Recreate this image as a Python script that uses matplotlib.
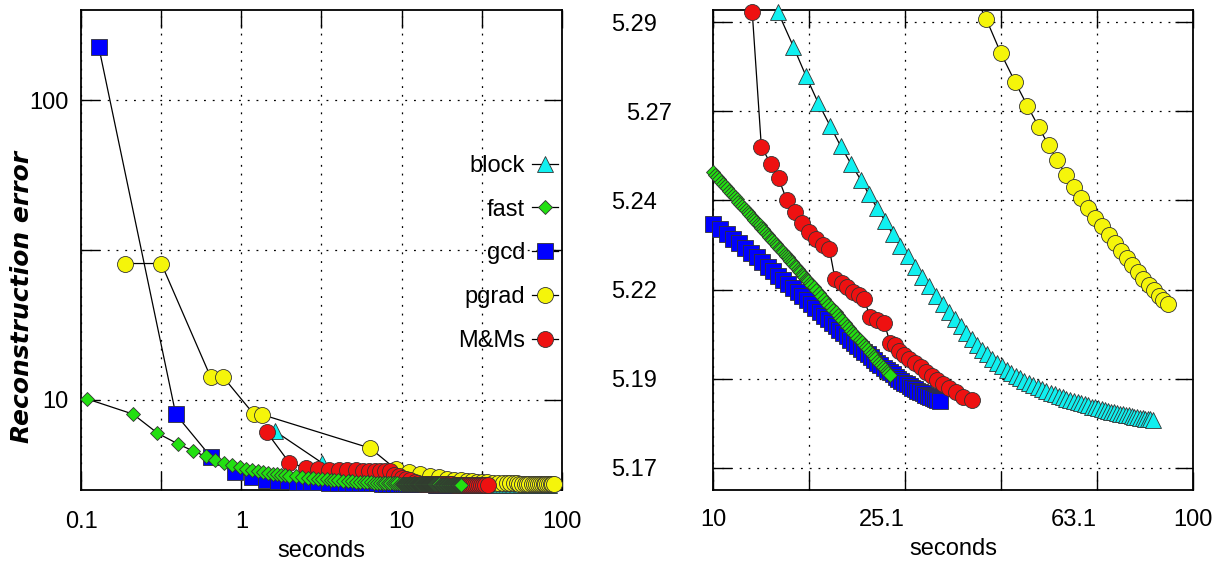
import numpy as np
import matplotlib.pyplot as plt
from matplotlib.lines import Line2D
from matplotlib.ticker import FixedLocator, FixedFormatter, NullLocator
from matplotlib.transforms import ScaledTranslation

plt.rcParams['font.family'] = ['Liberation Sans', 'DejaVu Sans']

# ---- data (seconds, reconstruction error) ----
block_t = [1.62, 3.17, 4.1, 5.0, 5.95, 6.9, 7.85, 8.8, 9.8, 10.8, 11.75, 12.7,
           13.67, 14.71, 15.63, 16.56, 17.54, 18.44, 19.38, 20.33, 21.12, 21.99,
           22.85, 23.70, 24.58, 25.44, 26.34, 27.26, 28.21, 29.21, 30.1, 31.0,
           31.9, 32.8, 33.7, 34.6, 35.5, 36.4, 37.3, 38.2, 39.1, 40.0, 40.9,
           41.8, 42.7, 43.6, 44.5, 45.5, 46.5, 47.5, 48.5, 49.5, 50.5, 51.5,
           52.5, 53.5, 54.5, 55.5, 56.5, 57.5, 58.5, 59.5, 60.5, 61.5, 62.5,
           63.5, 64.5, 65.5, 66.5, 67.5, 68.5, 69.5, 70.5, 71.5, 72.5, 73.5,
           74.5, 75.5, 76.5, 77.5, 78.5, 79.5, 80.5, 81.5, 82.5]
block_err = [7.86, 6.17, 5.80, 5.62, 5.52, 5.46, 5.42, 5.385, 5.36, 5.34, 5.322, 5.308,
             5.2977, 5.2881, 5.2798, 5.2724, 5.2659, 5.2603, 5.2553, 5.2507, 5.2467, 5.2428,
             5.2391, 5.2355, 5.2322, 5.2293, 5.2264, 5.2236, 5.2209, 5.2183, 5.2160, 5.2138,
             5.2117, 5.2097, 5.2079, 5.2061, 5.2045, 5.2031, 5.2018, 5.2006, 5.1995, 5.1985, 5.1975,
             5.1967, 5.1959, 5.1951, 5.1945, 5.1938, 5.1932, 5.1926, 5.1921, 5.1916, 5.1911, 5.1906,
             5.1902, 5.1898, 5.1894, 5.1890, 5.1887, 5.1884, 5.1881, 5.1878, 5.1875, 5.1872, 5.1870,
             5.1867, 5.1865, 5.1862, 5.1860, 5.1858, 5.1856, 5.1854, 5.1852, 5.1851, 5.1849, 5.1847,
             5.1846, 5.1844, 5.1843, 5.1841, 5.1840, 5.1838, 5.1837, 5.1836, 5.1835]

fast_t = [0.109, 0.211, 0.300, 0.403, 0.497, 0.601, 0.690, 0.780, 0.873, 0.975,
          1.07, 1.17, 1.27, 1.37, 1.47, 1.57, 1.67, 1.77, 1.87, 1.97,
          2.2, 2.4, 2.6, 2.8, 3.0, 3.2, 3.4, 3.6, 3.8, 4.0,
          4.3, 4.6, 4.9, 5.2, 5.5, 5.8, 6.1, 6.4, 6.7, 7.0,
          7.3, 7.6, 7.9, 8.2, 8.5, 8.8, 9.1, 9.4, 9.7, 10.0,
          10.1, 10.2, 10.3, 10.4, 10.5, 10.6, 10.7, 10.8, 10.9, 11.0,
          11.1, 11.2, 11.3, 11.4, 11.5, 11.6, 11.7, 11.8, 11.9, 12.0,
          12.1, 12.2, 12.3, 12.4, 12.5, 12.6, 12.7, 12.8, 12.9, 13.0,
          13.1, 13.2, 13.3, 13.4, 13.5, 13.6, 13.7, 13.8, 13.9, 14.0,
          14.1, 14.2, 14.3, 14.4, 14.5, 14.6, 14.7, 14.8, 14.9, 15.0,
          15.1, 15.2, 15.3, 15.4, 15.5, 15.6, 15.7, 15.8, 15.9, 16.0,
          16.2, 16.4, 16.6, 16.8, 17.0, 17.2, 17.4, 17.6, 17.8, 18.0,
          18.2, 18.4, 18.6, 18.8, 19.0, 19.2, 19.4, 19.6, 19.8, 20.0,
          20.2, 20.4, 20.6, 20.8, 21.0, 21.2, 21.4, 21.6, 21.8, 22.0,
          22.2, 22.4, 22.6, 22.8, 23.0, 23.2, 23.4]
fast_err = [10.07, 8.96, 7.74, 7.12, 6.76, 6.47, 6.29, 6.17, 6.05, 5.95,
            5.88, 5.82, 5.77, 5.73, 5.70, 5.67, 5.645, 5.62, 5.60, 5.58,
            5.55, 5.525, 5.50, 5.48, 5.46, 5.445, 5.43, 5.415, 5.40, 5.388,
            5.372, 5.358, 5.345, 5.334, 5.324, 5.315, 5.307, 5.300, 5.294, 5.288,
            5.283, 5.278, 5.274, 5.270, 5.266, 5.263, 5.260, 5.2575, 5.255, 5.2529,
            5.2522, 5.2516, 5.2509, 5.2503, 5.2496, 5.2490, 5.2484, 5.2477, 5.2471, 5.2465,
            5.2459, 5.2453, 5.2447, 5.2441, 5.2435, 5.2430, 5.2424, 5.2418, 5.2412, 5.2407,
            5.2401, 5.2396, 5.2390, 5.2385, 5.2380, 5.2374, 5.2369, 5.2364, 5.2358, 5.2353,
            5.2348, 5.2343, 5.2338, 5.2333, 5.2328, 5.2323, 5.2318, 5.2313, 5.2308, 5.2304,
            5.2299, 5.2294, 5.2290, 5.2285, 5.2280, 5.2276, 5.2271, 5.2267, 5.2262, 5.2258,
            5.2253, 5.2249, 5.2244, 5.2240, 5.2236, 5.2231, 5.2227, 5.2223, 5.2218, 5.2214,
            5.2206, 5.2198, 5.2190, 5.2182, 5.2174, 5.2166, 5.2158, 5.2151, 5.2143, 5.2136,
            5.2128, 5.2121, 5.2114, 5.2106, 5.2099, 5.2092, 5.2085, 5.2079, 5.2072, 5.2065,
            5.2058, 5.2052, 5.2045, 5.2039, 5.2032, 5.2026, 5.2020, 5.2014, 5.2007, 5.2001,
            5.1995, 5.1989, 5.1983, 5.1977, 5.1972, 5.1966, 5.1960]

gcd_t = [0.129, 0.390, 0.650, 0.912, 1.17, 1.43, 1.69, 1.95, 2.21, 2.47, 2.73,
         3.0, 3.5, 4.0, 4.5, 5.0, 5.5, 6.0, 6.5, 7.0, 7.5, 8.0, 8.5, 9.0, 9.5,
         10.0, 10.33, 10.67, 11.0, 11.33, 11.67, 12.0, 12.33, 12.67, 13.0,
         13.33, 13.67, 14.0, 14.33, 14.67, 15.0, 15.33, 15.67, 16.0, 16.33,
         16.67, 17.0, 17.33, 17.67, 18.0, 18.33, 18.67, 19.0, 19.33, 19.67,
         20.0, 20.33, 20.67, 21.0, 21.33, 21.67, 22.0, 22.33, 22.67, 23.0,
         23.33, 23.67, 24.0, 24.33, 24.67, 25.0, 25.33, 25.67, 26.0, 26.33,
         26.67, 27.0, 27.33, 27.67, 28.0, 28.33, 28.67, 29.0, 29.33, 29.7]
gcd_err = [150.8, 8.95, 6.42, 5.73, 5.51, 5.42, 5.37, 5.345, 5.33, 5.318, 5.31,
           5.303, 5.295, 5.288, 5.282, 5.277, 5.272, 5.268, 5.264, 5.260, 5.256, 5.252, 5.248, 5.245, 5.2418,
           5.2385, 5.2371, 5.2357, 5.2343, 5.2330, 5.2316, 5.2303, 5.2290, 5.2277, 5.2264,
           5.2252, 5.2239, 5.2227, 5.2215, 5.2204, 5.2192, 5.2181, 5.2170, 5.2159, 5.2148,
           5.2138, 5.2127, 5.2117, 5.2107, 5.2097, 5.2088, 5.2078, 5.2069, 5.2060, 5.2051,
           5.2043, 5.2034, 5.2026, 5.2018, 5.2010, 5.2003, 5.1995, 5.1988, 5.1981, 5.1974,
           5.1968, 5.1962, 5.1956, 5.1950, 5.1945, 5.1939, 5.1934, 5.1930, 5.1925, 5.1921,
           5.1917, 5.1913, 5.1909, 5.1905, 5.1902, 5.1898, 5.1895, 5.1892, 5.1890, 5.1888]

pgrad_t = [0.189, 0.317, 0.644, 0.772, 1.194, 1.342, 6.35, 9.23, 11.1, 13.0,
           15.0, 17.0, 19.1, 21.2, 23.3, 25.4, 27.5, 29.7, 31.9, 34.3,
           37.05, 39.78, 42.6, 45.2, 47.7, 50.0, 52.2, 54.3, 56.4, 58.4,
           60.5, 62.6, 64.7, 66.8, 68.8, 70.8, 72.8, 74.8, 76.8, 78.8,
           80.8, 82.8, 84.8, 86.8, 88.6]
pgrad_err = [28.5, 28.5, 11.9, 11.9, 8.96, 8.93, 6.90, 5.86, 5.73, 5.64,
             5.57, 5.51, 5.46, 5.42, 5.39, 5.36, 5.34, 5.326, 5.315, 5.305,
             5.296, 5.2863, 5.2782, 5.2715, 5.2656, 5.2605, 5.2562, 5.2522, 5.2488, 5.2458,
             5.2429, 5.2402, 5.2377, 5.2353, 5.2331, 5.2309, 5.2288, 5.2268, 5.2249, 5.2231,
             5.2214, 5.2198, 5.2183, 5.2170, 5.2160]

mms_t = [1.44, 1.99, 2.52, 3.01, 3.54, 4.09, 4.59, 5.17, 5.72, 6.27, 6.82, 7.37,
         7.92, 8.47, 9.02, 9.57, 10.12, 10.67, 11.22, 12.07, 12.61, 13.18, 13.70,
         14.24, 14.82, 15.30, 15.87, 16.39, 16.92, 17.48, 17.96, 18.54, 19.05,
         19.61, 20.15, 20.67, 21.24, 21.93, 22.75, 23.38, 23.95, 24.44, 25.0,
         25.64, 26.35, 27.08, 27.79, 28.55, 29.33, 30.19, 31.07, 32.08, 33.22, 34.6]
mms_err = [7.80, 6.17, 5.93, 5.86, 5.83, 5.82, 5.83, 5.81, 5.80, 5.79, 5.785, 5.78,
           5.775, 5.77, 5.60, 5.55, 5.50, 5.45, 5.40, 5.2979, 5.2601, 5.2553, 5.2512,
           5.2451, 5.2418, 5.2386, 5.2362, 5.2341, 5.2325, 5.2313, 5.2229, 5.2218, 5.2206,
           5.2194, 5.2185, 5.2173, 5.2122, 5.2115, 5.2106, 5.2051, 5.2045, 5.2029, 5.2017,
           5.2005, 5.1993, 5.1982, 5.1970, 5.1959, 5.1947, 5.1935, 5.1923, 5.1912, 5.1900, 5.1889]

labels = ["block", "fast", "gcd", "pgrad", "M&Ms"]

left_xticks = [0.1, 1, 10, 100]
left_xlabels = ["0.1", "1", "10", "100"]
left_xminor = [0.316, 3.16, 31.6]
left_yticks = [10, 100]
left_ylabels = ["10", "100"]
left_yminor = [31.6]

right_xticks = [10, 15.85, 25.12, 39.81, 63.1, 100]
right_xlabels = ["10", "", "25.1", "", "63.1", "100"]
right_yticks = [5.17, 5.195, 5.22, 5.245, 5.27, 5.295]
right_ylabels = ["5.17", "5.19", "5.22", "5.24", "5.27", "5.29"]

# name, times, errors, marker, face colour, marker size, zorder
series = [
    ("block", block_t, block_err, "^", "#10f0f0", 12, 3),
    ("gcd", gcd_t, gcd_err, "s", "#0000ff", 11, 4),
    ("pgrad", pgrad_t, pgrad_err, "o", "#f5f50a", 11.5, 5),
    ("M&Ms", mms_t, mms_err, "o", "#ee1111", 11.5, 6),
    ("fast", fast_t, fast_err, "D", "#22e011", 7.3, 7),
]


def draw(ax, xlim, ylim):
    for name, t, e, mk, fc, ms, z in series:
        t = np.array(t)
        e = np.array(e)
        ax.plot(t, e, color="black", lw=0.9, zorder=z)
        inside = (t >= xlim[0]) & (t <= xlim[1]) & (e >= ylim[0]) & (e <= ylim[1])
        ax.plot(t[inside], e[inside], ls="none", marker=mk, ms=ms, mfc=fc,
                mec="#333333", mew=0.6, clip_on=False, zorder=z + 0.5)
    ax.set_xlim(*xlim)
    ax.set_ylim(*ylim)
    ax.grid(True, which="both", ls=(0, (1.5, 5.5)), color="black", lw=0.9)
    ax.tick_params(which="both", direction="in", length=13, width=1,
                   top=True, right=True, labelsize=17)
    for s in ax.spines.values():
        s.set_linewidth(1.3)


fig = plt.figure(figsize=(12.18, 5.65), dpi=100)
axL = fig.add_axes([81 / 1218, 75 / 565, 481 / 1218, 480 / 565])
axR = fig.add_axes([713 / 1218, 75 / 565, 480 / 1218, 480 / 565])

axL.set_xscale("log")
axL.set_yscale("log")
draw(axL, (0.1, 100), (5.0, 200))
axL.xaxis.set_major_locator(FixedLocator(left_xticks))
axL.xaxis.set_major_formatter(FixedFormatter(left_xlabels))
axL.xaxis.set_minor_locator(FixedLocator(left_xminor))
axL.xaxis.set_minor_formatter(FixedFormatter([""] * len(left_xminor)))
axL.yaxis.set_major_locator(FixedLocator(left_yticks))
axL.yaxis.set_major_formatter(FixedFormatter(left_ylabels))
axL.yaxis.set_minor_locator(FixedLocator(left_yminor))
axL.yaxis.set_minor_formatter(FixedFormatter([""] * len(left_yminor)))
axL.tick_params(axis="x", pad=15)
axL.tick_params(axis="y", pad=9)
axL.set_xlabel("seconds", fontsize=17, labelpad=5)

handles = []
for name in labels:
    for n, t, e, mk, fc, ms, z in series:
        if n == name:
            handles.append(Line2D([], [], color="black", lw=0.9, marker=mk, ms=ms,
                                  mfc=fc, mec="#333333", mew=0.6))
axL.legend(handles, labels, loc="upper right", bbox_to_anchor=(0.992, 0.698),
           frameon=False, markerfirst=False, handlelength=1.1, handletextpad=0.3,
           labelspacing=0.92, borderpad=0, borderaxespad=0, fontsize=17)

axR.set_xscale("log")
draw(axR, (10, 100), (5.1638, 5.2984))
axR.xaxis.set_major_locator(FixedLocator(right_xticks))
axR.xaxis.set_major_formatter(FixedFormatter(right_xlabels))
axR.xaxis.set_minor_locator(NullLocator())
axR.yaxis.set_major_locator(FixedLocator(right_yticks))
axR.yaxis.set_major_formatter(FixedFormatter(right_ylabels))
axR.tick_params(axis="x", pad=14)
axR.tick_params(axis="y", pad=40)
axR.set_xlabel("seconds", fontsize=17, labelpad=5)

fig.canvas.draw()
for lab in axR.get_xticklabels():
    if lab.get_text() in ("25.1", "63.1"):
        lab.set_ha("right")
for lab in axR.get_yticklabels():
    if lab.get_text() == "5.27":
        lab.set_transform(lab.get_transform() + ScaledTranslation(0.15, 0, fig.dpi_scale_trans))

fig.text(22 / 1218, 1 - 297 / 565, "Reconstruction error", rotation=90,
         family="DejaVu Sans", fontsize=18, fontweight="bold", fontstyle="italic",
         ha="center", va="center")

fig.savefig("out.png", dpi=100)
